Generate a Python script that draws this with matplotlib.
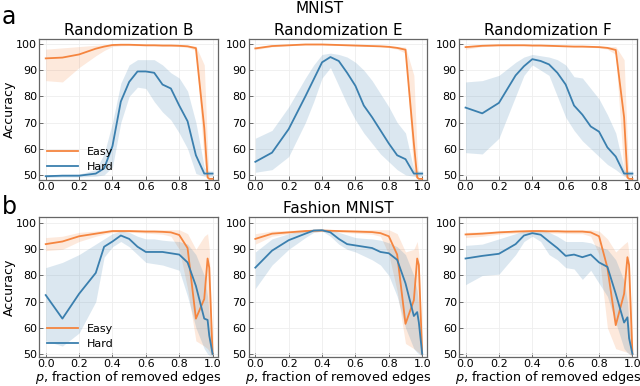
import numpy as np
import matplotlib
matplotlib.use("Agg")
import matplotlib.pyplot as plt

# fraction of removed edges
p = [0.0, 0.1, 0.2, 0.3, 0.35, 0.4, 0.45, 0.5, 0.55, 0.6, 0.65, 0.7, 0.75, 0.8, 0.85, 0.9, 0.95, 0.97, 0.98, 1.0]

# MNIST - Randomization B
mn_b_easy = [94.5, 94.8, 96.0, 98.2, 99.0, 99.6, 99.7, 99.7, 99.6, 99.5, 99.5, 99.4, 99.4, 99.3, 99.1, 98.4, 68.0, 49.0, 48.5, 48.5]
mn_b_easy_lo = [86.0, 85.5, 91.0, 95.5, 97.5, 99.0, 99.3, 99.4, 99.3, 99.2, 99.2, 99.1, 99.1, 99.0, 98.7, 97.5, 55.0, 48.5, 48.3, 48.3]
mn_b_easy_hi = [98.0, 98.5, 99.0, 99.5, 99.7, 99.8, 99.9, 99.9, 99.8, 99.7, 99.7, 99.6, 99.6, 99.5, 99.4, 99.2, 92.0, 60.0, 49.0, 48.7]
mn_b_hard = [49.5, 49.7, 49.7, 50.5, 52.5, 61.0, 78.0, 85.5, 89.5, 89.5, 89.0, 84.5, 83.0, 76.5, 70.5, 57.5, 50.5, 50.5, 50.5, 50.5]
mn_b_hard_lo = [49.0, 49.2, 49.2, 49.5, 50.0, 53.0, 70.0, 80.0, 83.5, 83.0, 78.0, 74.0, 71.0, 66.0, 60.0, 50.5, 49.5, 49.5, 49.5, 49.5]
mn_b_hard_hi = [50.0, 50.2, 50.3, 52.0, 58.0, 70.0, 85.0, 92.0, 94.0, 94.0, 94.0, 92.0, 89.0, 87.0, 82.0, 70.0, 53.0, 51.5, 51.5, 51.5]

# MNIST - Randomization E
mn_e_easy = [98.3, 99.2, 99.5, 99.8, 99.8, 99.8, 99.7, 99.6, 99.5, 99.4, 99.3, 99.2, 99.1, 98.9, 98.5, 97.8, 62.0, 49.0, 48.5, 48.5]
mn_e_easy_lo = [97.8, 98.9, 99.3, 99.6, 99.6, 99.6, 99.5, 99.4, 99.3, 99.2, 99.1, 99.0, 98.9, 98.6, 98.0, 96.5, 50.0, 48.5, 48.3, 48.3]
mn_e_easy_hi = [98.8, 99.5, 99.7, 99.9, 99.9, 99.9, 99.9, 99.8, 99.7, 99.6, 99.5, 99.4, 99.3, 99.2, 99.0, 98.8, 88.0, 58.0, 49.0, 48.7]
mn_e_hard = [55.0, 58.5, 67.5, 80.0, 86.5, 93.0, 95.0, 93.5, 89.0, 84.0, 76.5, 72.0, 67.0, 62.0, 57.5, 56.0, 50.5, 50.5, 50.5, 50.5]
mn_e_hard_lo = [51.0, 52.0, 57.0, 70.0, 78.0, 87.0, 91.0, 84.0, 77.0, 71.0, 66.0, 62.0, 58.0, 55.0, 52.0, 50.0, 49.5, 49.5, 49.5, 49.5]
mn_e_hard_hi = [64.0, 67.0, 76.0, 87.0, 92.0, 96.0, 96.5, 96.0, 95.0, 93.0, 90.0, 86.0, 81.0, 76.0, 70.0, 66.0, 52.0, 51.5, 51.5, 51.5]

# MNIST - Randomization F
mn_f_easy = [98.8, 99.3, 99.5, 99.5, 99.5, 99.4, 99.4, 99.3, 99.2, 99.1, 99.0, 99.0, 98.9, 98.8, 98.5, 97.7, 72.0, 49.0, 48.5, 48.5]
mn_f_easy_lo = [98.0, 99.0, 99.2, 99.3, 99.3, 99.2, 99.2, 99.1, 99.0, 98.9, 98.8, 98.8, 98.7, 98.5, 98.0, 96.0, 50.0, 48.5, 48.3, 48.3]
mn_f_easy_hi = [99.3, 99.6, 99.7, 99.7, 99.7, 99.6, 99.6, 99.5, 99.4, 99.3, 99.2, 99.2, 99.1, 99.1, 99.0, 99.0, 94.0, 62.0, 49.0, 48.7]
mn_f_hard = [75.7, 73.5, 77.5, 88.0, 91.5, 94.2, 93.5, 92.2, 89.0, 84.5, 76.5, 73.0, 68.5, 66.5, 60.5, 57.0, 50.5, 50.5, 50.5, 50.5]
mn_f_hard_lo = [58.5, 58.0, 64.0, 80.0, 88.0, 92.0, 90.0, 88.0, 80.0, 72.0, 67.0, 63.0, 60.0, 57.0, 54.0, 52.0, 49.5, 49.5, 49.5, 49.5]
mn_f_hard_hi = [85.5, 86.0, 88.0, 93.0, 95.0, 96.0, 95.5, 95.0, 94.0, 92.0, 87.5, 87.0, 83.0, 79.0, 73.0, 66.0, 52.0, 51.5, 51.5, 51.5]

# Fashion MNIST - Randomization B
fa_b_easy = [92.0, 93.0, 95.0, 96.0, 96.5, 97.0, 97.0, 97.0, 96.9, 96.8, 96.8, 96.7, 96.5, 95.5, 90.5, 63.5, 71.0, 86.5, 83.0, 50.0]
fa_b_easy_lo = [89.5, 90.0, 93.0, 95.0, 95.8, 96.5, 96.5, 96.5, 96.4, 96.2, 96.0, 95.8, 95.0, 90.0, 75.0, 55.0, 53.0, 52.0, 51.0, 49.0]
fa_b_easy_hi = [94.5, 95.0, 96.5, 97.0, 97.3, 97.5, 97.5, 97.5, 97.5, 97.5, 97.5, 97.5, 97.5, 97.5, 96.0, 90.0, 95.0, 96.0, 90.0, 51.0]
fa_b_hard = [72.5, 63.5, 73.0, 81.0, 91.0, 93.0, 95.3, 94.0, 91.0, 89.0, 89.0, 89.0, 88.5, 88.0, 85.0, 76.0, 63.5, 63.0, 57.0, 50.0]
fa_b_hard_lo = [55.0, 53.0, 58.0, 70.0, 87.0, 91.0, 93.0, 91.0, 88.0, 85.0, 84.5, 84.0, 83.0, 82.0, 72.0, 60.0, 52.0, 50.0, 49.5, 49.0]
fa_b_hard_hi = [83.0, 85.0, 88.0, 92.0, 94.0, 96.0, 97.0, 96.5, 95.0, 94.0, 94.0, 93.5, 93.2, 93.0, 92.0, 88.0, 80.0, 72.0, 65.0, 51.0]

# Fashion MNIST - Randomization E
fa_e_easy = [94.0, 96.0, 96.5, 97.0, 97.1, 97.2, 97.1, 97.0, 96.9, 96.8, 96.7, 96.6, 96.2, 95.0, 88.0, 61.5, 70.5, 86.5, 84.0, 50.0]
fa_e_easy_lo = [92.0, 95.0, 96.0, 96.5, 96.6, 96.8, 96.7, 96.5, 96.4, 96.2, 96.0, 95.8, 95.0, 88.0, 74.0, 54.0, 52.0, 51.0, 50.5, 49.0]
fa_e_easy_hi = [96.0, 97.0, 97.2, 97.5, 97.5, 97.6, 97.6, 97.5, 97.5, 97.5, 97.5, 97.5, 97.5, 97.5, 96.0, 89.0, 90.0, 93.0, 88.0, 51.0]
fa_e_hard = [83.0, 89.5, 93.5, 96.0, 97.2, 97.3, 96.5, 94.0, 92.0, 91.5, 91.0, 90.5, 89.0, 88.5, 86.0, 77.0, 64.5, 66.0, 62.0, 50.0]
fa_e_hard_lo = [75.0, 84.0, 90.0, 94.5, 96.5, 97.0, 95.0, 92.0, 90.0, 89.0, 87.5, 86.0, 84.0, 80.0, 72.0, 60.0, 52.0, 50.5, 50.0, 49.0]
fa_e_hard_hi = [89.0, 94.0, 96.0, 97.5, 97.8, 97.8, 97.5, 96.5, 95.5, 94.5, 94.2, 94.0, 93.5, 92.5, 91.0, 88.0, 80.0, 74.0, 68.0, 51.0]

# Fashion MNIST - Randomization F
fa_f_easy = [95.7, 96.0, 96.5, 96.8, 96.9, 97.0, 97.0, 96.9, 96.9, 96.8, 96.8, 96.8, 96.5, 95.0, 83.0, 61.0, 73.0, 87.0, 84.0, 50.0]
fa_f_easy_lo = [94.5, 95.0, 95.8, 96.2, 96.3, 96.4, 96.4, 96.3, 96.2, 96.1, 96.0, 96.0, 95.0, 88.0, 60.0, 52.0, 51.0, 50.5, 50.0, 49.0]
fa_f_easy_hi = [96.5, 96.8, 97.0, 97.3, 97.4, 97.5, 97.5, 97.5, 97.5, 97.5, 97.5, 97.5, 97.5, 97.0, 94.0, 89.0, 92.0, 93.0, 88.0, 51.0]
fa_f_hard = [86.5, 87.5, 88.3, 92.0, 95.3, 96.2, 95.6, 93.0, 90.5, 87.5, 88.0, 87.0, 88.0, 85.0, 83.3, 73.0, 62.0, 64.0, 56.0, 50.0]
fa_f_hard_lo = [76.5, 80.0, 80.5, 88.0, 93.0, 95.0, 93.0, 88.0, 86.0, 83.0, 82.5, 78.5, 82.0, 77.0, 72.0, 62.0, 52.0, 50.5, 50.0, 49.0]
fa_f_hard_hi = [91.5, 92.0, 94.0, 96.0, 97.0, 97.5, 97.5, 96.5, 95.0, 93.0, 93.0, 93.0, 92.5, 91.0, 90.0, 86.0, 78.0, 70.0, 62.0, 51.0]

titles = ["Randomization B", "Randomization E", "Randomization F"]
x_ticks = [0.0, 0.2, 0.4, 0.6, 0.8, 1.0]
y_ticks = [50, 60, 70, 80, 90, 100]

easy_color = "#f5853f"
hard_color = "#3a7fae"

top_row = [
    (mn_b_easy, mn_b_easy_lo, mn_b_easy_hi, mn_b_hard, mn_b_hard_lo, mn_b_hard_hi),
    (mn_e_easy, mn_e_easy_lo, mn_e_easy_hi, mn_e_hard, mn_e_hard_lo, mn_e_hard_hi),
    (mn_f_easy, mn_f_easy_lo, mn_f_easy_hi, mn_f_hard, mn_f_hard_lo, mn_f_hard_hi),
]
bottom_row = [
    (fa_b_easy, fa_b_easy_lo, fa_b_easy_hi, fa_b_hard, fa_b_hard_lo, fa_b_hard_hi),
    (fa_e_easy, fa_e_easy_lo, fa_e_easy_hi, fa_e_hard, fa_e_hard_lo, fa_e_hard_hi),
    (fa_f_easy, fa_f_easy_lo, fa_f_easy_hi, fa_f_hard, fa_f_hard_lo, fa_f_hard_hi),
]

fig = plt.figure(figsize=(6.4, 3.86), dpi=100)

lefts = [0.061, 0.3885, 0.717]
width = 0.279
rows = [(0.534, 0.365, top_row, (48.1, 101.9)), (0.075, 0.363, bottom_row, (48.8, 102.4))]

for r, (bottom, height, panels, ylim) in enumerate(rows):
    for c, data in enumerate(panels):
        ax = fig.add_axes([lefts[c], bottom, width, height])
        e, elo, ehi, h, hlo, hhi = data
        ax.fill_between(p, elo, ehi, color=easy_color, alpha=0.18, lw=0)
        ax.fill_between(p, hlo, hhi, color=hard_color, alpha=0.18, lw=0)
        ax.plot(p, e, color=easy_color, lw=1.3, label="Easy")
        ax.plot(p, h, color=hard_color, lw=1.3, label="Hard")
        ax.set_xlim(-0.04, 1.03)
        ax.set_ylim(*ylim)
        ax.set_xticks(x_ticks)
        ax.set_yticks(y_ticks)
        ax.tick_params(direction="in", length=3, width=0.6, labelsize=8, pad=1.5,
                       color="#555555")
        ax.grid(color="#eeeeee", lw=0.6)
        ax.set_axisbelow(True)
        for s in ax.spines.values():
            s.set_color("#666666")
            s.set_linewidth(0.9)
        if r == 0:
            ax.set_title(titles[c], fontsize=11, pad=3)
        else:
            ax.set_xlabel("$p$, fraction of removed edges", fontsize=9.2, labelpad=0)
        if c == 0:
            ax.set_ylabel("Accuracy", fontsize=9, labelpad=0)
            ax.legend(loc="lower left", frameon=False, fontsize=8, handlelength=2.8,
                      borderaxespad=0.3, labelspacing=0.5)
        if r == 1 and c == 1:
            ax.set_title("Fashion MNIST", fontsize=11, pad=3)

fig.text(0.5, 0.978, "MNIST", ha="center", va="center", fontsize=11)
fig.text(0.003, 0.955, "a", ha="left", va="center", fontsize=17)
fig.text(0.003, 0.465, "b", ha="left", va="center", fontsize=17)

fig.savefig("out.png", dpi=100)
